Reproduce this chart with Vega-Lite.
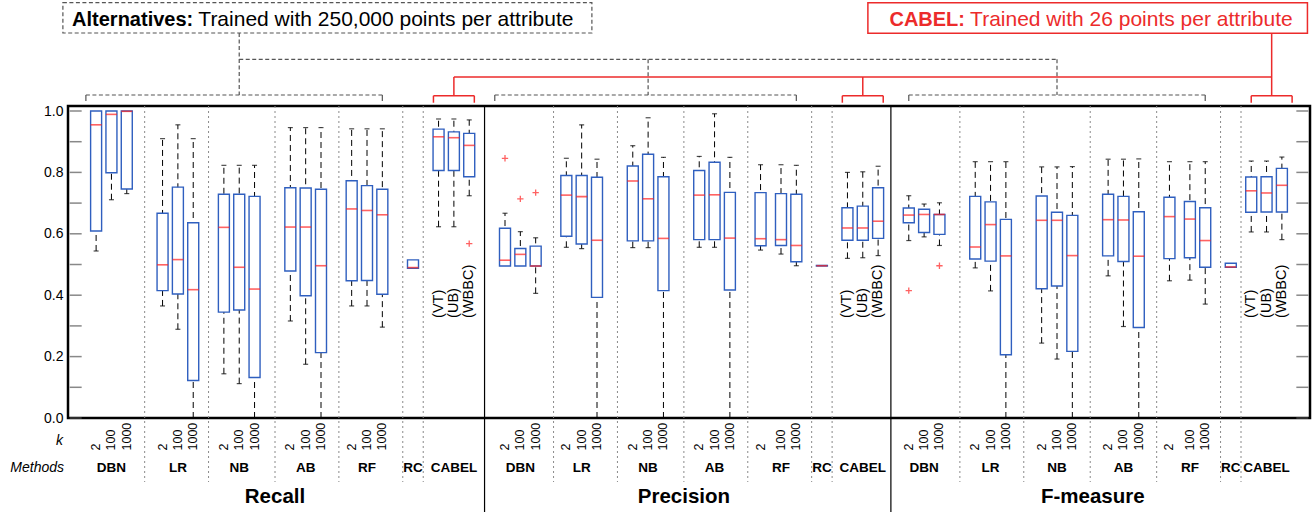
{
"$schema":"https://vega.github.io/schema/vega-lite/v6.json",
"width":1242,"height":312,
"autosize":{"type":"none"},
"padding":{"left":68,"top":106,"right":5,"bottom":94},
"background":"white",
"config":{"view":{"stroke":"#000","strokeWidth":2.5},"font":"Liberation Sans","text":{"font":"Liberation Sans"}},
"datasets":{
"boxes":[
{"slot":"R|DBN|2","lo":0.544,"q1":0.609,"med":0.955,"q3":1.0,"hi":1.0},
{"slot":"R|DBN|100","lo":0.711,"q1":0.799,"med":0.989,"q3":1.0,"hi":1.0},
{"slot":"R|DBN|1000","lo":0.731,"q1":0.746,"med":0.999,"q3":1.0,"hi":1.0},
{"slot":"R|LR|2","lo":0.365,"q1":0.415,"med":0.499,"q3":0.667,"hi":0.910},
{"slot":"R|LR|100","lo":0.289,"q1":0.404,"med":0.516,"q3":0.752,"hi":0.955},
{"slot":"R|LR|1000","lo":0,"q1":0.122,"med":0.418,"q3":0.636,"hi":0.910},
{"slot":"R|NB|2","lo":0.144,"q1":0.345,"med":0.621,"q3":0.729,"hi":0.823},
{"slot":"R|NB|100","lo":0.112,"q1":0.352,"med":0.491,"q3":0.729,"hi":0.823},
{"slot":"R|NB|1000","lo":0,"q1":0.132,"med":0.420,"q3":0.722,"hi":0.823},
{"slot":"R|AB|2","lo":0.316,"q1":0.479,"med":0.622,"q3":0.750,"hi":0.946},
{"slot":"R|AB|100","lo":0.175,"q1":0.398,"med":0.622,"q3":0.749,"hi":0.946},
{"slot":"R|AB|1000","lo":0,"q1":0.213,"med":0.496,"q3":0.745,"hi":0.946},
{"slot":"R|RF|2","lo":0.365,"q1":0.447,"med":0.681,"q3":0.773,"hi":0.942},
{"slot":"R|RF|100","lo":0.365,"q1":0.448,"med":0.676,"q3":0.757,"hi":0.942},
{"slot":"R|RF|1000","lo":0.296,"q1":0.403,"med":0.662,"q3":0.745,"hi":0.942},
{"slot":"R|RC|","lo":0.488,"q1":0.488,"med":0.490,"q3":0.515,"hi":0.515},
{"slot":"R|CABEL|VT","lo":0.623,"q1":0.806,"med":0.916,"q3":0.941,"hi":0.974,"tag":"(VT)"},
{"slot":"R|CABEL|UB","lo":0.623,"q1":0.806,"med":0.913,"q3":0.932,"hi":0.974,"tag":"(UB)"},
{"slot":"R|CABEL|WBBC","lo":0.724,"q1":0.786,"med":0.888,"q3":0.927,"hi":0.971,"tag":"(WBBC)"},
{"slot":"P|DBN|2","lo":0.495,"q1":0.495,"med":0.514,"q3":0.618,"hi":0.667},
{"slot":"P|DBN|100","lo":0.495,"q1":0.495,"med":0.533,"q3":0.552,"hi":0.607},
{"slot":"P|DBN|1000","lo":0.406,"q1":0.495,"med":0.495,"q3":0.560,"hi":0.587},
{"slot":"P|LR|2","lo":0.556,"q1":0.592,"med":0.726,"q3":0.790,"hi":0.846},
{"slot":"P|LR|100","lo":0.552,"q1":0.567,"med":0.721,"q3":0.790,"hi":0.955},
{"slot":"P|LR|1000","lo":0,"q1":0.393,"med":0.579,"q3":0.784,"hi":0.843},
{"slot":"P|NB|2","lo":0.555,"q1":0.577,"med":0.772,"q3":0.821,"hi":0.887},
{"slot":"P|NB|100","lo":0.555,"q1":0.577,"med":0.714,"q3":0.859,"hi":0.978},
{"slot":"P|NB|1000","lo":0,"q1":0.415,"med":0.585,"q3":0.786,"hi":0.849},
{"slot":"P|AB|2","lo":0.556,"q1":0.581,"med":0.726,"q3":0.806,"hi":0.852},
{"slot":"P|AB|100","lo":0.556,"q1":0.581,"med":0.727,"q3":0.833,"hi":0.991},
{"slot":"P|AB|1000","lo":0,"q1":0.417,"med":0.586,"q3":0.735,"hi":0.849},
{"slot":"P|RF|2","lo":0.547,"q1":0.561,"med":0.584,"q3":0.734,"hi":0.825},
{"slot":"P|RF|100","lo":0.534,"q1":0.562,"med":0.581,"q3":0.731,"hi":0.825},
{"slot":"P|RF|1000","lo":0.496,"q1":0.509,"med":0.562,"q3":0.729,"hi":0.823},
{"slot":"P|RC|","lo":0.495,"q1":0.495,"med":0.496,"q3":0.497,"hi":0.497},
{"slot":"P|CABEL|VT","lo":0.520,"q1":0.579,"med":0.619,"q3":0.685,"hi":0.800,"tag":"(VT)"},
{"slot":"P|CABEL|UB","lo":0.522,"q1":0.579,"med":0.619,"q3":0.690,"hi":0.802,"tag":"(UB)"},
{"slot":"P|CABEL|WBBC","lo":0.529,"q1":0.585,"med":0.641,"q3":0.750,"hi":0.820,"tag":"(WBBC)"},
{"slot":"F|DBN|2","lo":0.578,"q1":0.636,"med":0.661,"q3":0.684,"hi":0.724},
{"slot":"F|DBN|100","lo":0.590,"q1":0.604,"med":0.663,"q3":0.680,"hi":0.697},
{"slot":"F|DBN|1000","lo":0.562,"q1":0.598,"med":0.663,"q3":0.663,"hi":0.701},
{"slot":"F|LR|2","lo":0.489,"q1":0.518,"med":0.557,"q3":0.722,"hi":0.835},
{"slot":"F|LR|100","lo":0.414,"q1":0.511,"med":0.630,"q3":0.704,"hi":0.835},
{"slot":"F|LR|1000","lo":0,"q1":0.206,"med":0.528,"q3":0.647,"hi":0.835},
{"slot":"F|NB|2","lo":0.244,"q1":0.421,"med":0.644,"q3":0.723,"hi":0.818},
{"slot":"F|NB|100","lo":0.192,"q1":0.430,"med":0.644,"q3":0.670,"hi":0.818},
{"slot":"F|NB|1000","lo":0,"q1":0.217,"med":0.529,"q3":0.660,"hi":0.819},
{"slot":"F|AB|2","lo":0.463,"q1":0.528,"med":0.646,"q3":0.729,"hi":0.843},
{"slot":"F|AB|100","lo":0.298,"q1":0.510,"med":0.645,"q3":0.722,"hi":0.843},
{"slot":"F|AB|1000","lo":0,"q1":0.295,"med":0.527,"q3":0.672,"hi":0.844},
{"slot":"F|RF|2","lo":0.447,"q1":0.519,"med":0.656,"q3":0.719,"hi":0.835},
{"slot":"F|RF|100","lo":0.449,"q1":0.522,"med":0.648,"q3":0.705,"hi":0.835},
{"slot":"F|RF|1000","lo":0.371,"q1":0.491,"med":0.578,"q3":0.685,"hi":0.835},
{"slot":"F|RC|","lo":0.491,"q1":0.491,"med":0.492,"q3":0.504,"hi":0.504},
{"slot":"F|CABEL|VT","lo":0.606,"q1":0.670,"med":0.740,"q3":0.785,"hi":0.837,"tag":"(VT)"},
{"slot":"F|CABEL|UB","lo":0.606,"q1":0.671,"med":0.733,"q3":0.786,"hi":0.837,"tag":"(UB)"},
{"slot":"F|CABEL|WBBC","lo":0.581,"q1":0.671,"med":0.758,"q3":0.813,"hi":0.850,"tag":"(WBBC)"}
],
"outliers":[
{"slot":"R|CABEL|WBBC","v":0.568},{"slot":"P|DBN|2","v":0.846},{"slot":"P|DBN|100","v":0.714},
{"slot":"P|DBN|1000","v":0.734},{"slot":"F|DBN|2","v":0.415},{"slot":"F|DBN|1000","v":0.496}
],
"methods":[
{"slot":"R|DBN|100","name":"DBN"},{"slot":"R|LR|100","name":"LR"},{"slot":"R|NB|100","name":"NB"},{"slot":"R|AB|100","name":"AB"},{"slot":"R|RF|100","name":"RF"},{"slot":"R|RC|","name":"RC"},{"slot":"R|CABEL|UB","name":"CABEL"},
{"slot":"P|DBN|100","name":"DBN"},{"slot":"P|LR|100","name":"LR"},{"slot":"P|NB|100","name":"NB"},{"slot":"P|AB|100","name":"AB"},{"slot":"P|RF|100","name":"RF"},{"slot":"P|RC|","name":"RC"},{"slot":"P|CABEL|UB","name":"CABEL"},
{"slot":"F|DBN|100","name":"DBN"},{"slot":"F|LR|100","name":"LR"},{"slot":"F|NB|100","name":"NB"},{"slot":"F|AB|100","name":"AB"},{"slot":"F|RF|100","name":"RF"},{"slot":"F|RC|","name":"RC"},{"slot":"F|CABEL|UB","name":"CABEL"}
],
"titles":[{"slot":"_40","title":"Recall"},{"slot":"_120","title":"Precision"},{"slot":"_200","title":"F-measure"}],
"yt":[{"v":0},{"v":0.1},{"v":0.2},{"v":0.3},{"v":0.4},{"v":0.5},{"v":0.6},{"v":0.7},{"v":0.8},{"v":0.9},{"v":1.0}],
"sepMid":[{"slot":"_27"},{"slot":"_40"},{"slot":"_65"},{"slot":"_69"},{"slot":"_107"},{"slot":"_120"},{"slot":"_145"},{"slot":"_149"},{"slot":"_174"},{"slot":"_225"},{"slot":"_229"}],
"sepStart":[{"slot":"_15"},{"slot":"_53"},{"slot":"_95"},{"slot":"_133"},{"slot":"_187"},{"slot":"_200"},{"slot":"_213"}],
"altB":[{"a":"_3","b":"R|RF|1000"},{"a":"_83","b":"P|RF|1000"},{"a":"F|DBN|2","b":"F|RF|1000"}],
"redB":[{"a":"_71","b":"_79"},{"a":"_151","b":"_159"},{"a":"F|CABEL|VT","b":"_239"}]
},
"layer":[
{"data":{"name":"sepMid"},"mark":{"type":"rule","color":"#8a8a8a","strokeWidth":1,"strokeDash":[2,3]},
 "encoding":{"x":{"field":"slot","type":"ordinal","scale":{"domain":["_0","_1","_2","_3","_4","R|DBN|2","_6","_7","R|DBN|100","_9","_10","R|DBN|1000","_12","_13","_14","_15","_16","_17","R|LR|2","_19","_20","R|LR|100","_22","_23","R|LR|1000","_25","_26","_27","_28","_29","R|NB|2","_31","_32","R|NB|100","_34","_35","R|NB|1000","_37","_38","_39","_40","_41","_42","R|AB|2","_44","_45","R|AB|100","_47","_48","R|AB|1000","_50","_51","_52","_53","_54","R|RF|2","_56","_57","R|RF|100","_59","_60","R|RF|1000","_62","_63","_64","_65","_66","R|RC|","_68","_69","_70","_71","R|CABEL|VT","_73","_74","R|CABEL|UB","_76","_77","R|CABEL|WBBC","_79","_80","_81","_82","_83","_84","P|DBN|2","_86","_87","P|DBN|100","_89","_90","P|DBN|1000","_92","_93","_94","_95","_96","P|LR|2","_98","_99","P|LR|100","_101","_102","P|LR|1000","_104","_105","_106","_107","_108","_109","P|NB|2","_111","_112","P|NB|100","_114","_115","P|NB|1000","_117","_118","_119","_120","_121","_122","P|AB|2","_124","_125","P|AB|100","_127","_128","P|AB|1000","_130","_131","_132","_133","_134","P|RF|2","_136","_137","_138","P|RF|100","_140","_141","P|RF|1000","_143","_144","_145","_146","P|RC|","_148","_149","_150","_151","P|CABEL|VT","_153","_154","P|CABEL|UB","_156","_157","P|CABEL|WBBC","_159","_160","_161","_162","_163","F|DBN|2","_165","_166","F|DBN|100","_168","_169","F|DBN|1000","_171","_172","_173","_174","_175","_176","F|LR|2","_178","_179","F|LR|100","_181","_182","F|LR|1000","_184","_185","_186","_187","_188","_189","F|NB|2","_191","_192","F|NB|100","_194","_195","F|NB|1000","_197","_198","_199","_200","_201","_202","F|AB|2","_204","_205","F|AB|100","_207","_208","F|AB|1000","_210","_211","_212","_213","_214","F|RF|2","_216","_217","_218","F|RF|100","_220","_221","F|RF|1000","_223","_224","_225","_226","F|RC|","_228","_229","_230","F|CABEL|VT","_232","_233","F|CABEL|UB","_235","_236","F|CABEL|WBBC","_238","_239","_240","_241","_242"],"paddingInner":0,"paddingOuter":0},
   "axis":{"title":null,"ticks":false,"tickSize":0,"domain":false,"grid":false,"labelAngle":270,"labelAlign":"left","labelBaseline":"middle","labelPadding":32,"labelFontSize":12.5,"labelColor":"#000","labelFont":"Liberation Sans","labelOverlap":false,"labelBound":false,"labelFlush":false,"labelExpr":"indexof(['2','100','1000'], split(datum.value,'|')[2]) >= 0 ? split(datum.value,'|')[2] : ''"}},
  "y":{"datum":1.0163,"type":"quantitative","scale":{"domain":[0,1.0163],"nice":false,"zero":false},
   "axis":{"title":null,"values":[0,0.2,0.4,0.6,0.8,1.0],"format":".1f","ticks":false,"domain":false,"grid":false,"labelFontSize":14,"labelPadding":5,"labelColor":"#000","labelFont":"Liberation Sans"}},
  "y2":{"datum":-0.2085}}},
{"data":{"name":"sepStart"},"mark":{"type":"rule","color":"#8a8a8a","strokeWidth":1,"strokeDash":[2,3]},
 "encoding":{"x":{"field":"slot","type":"ordinal","bandPosition":0},"y":{"datum":1.0163,"type":"quantitative"},"y2":{"datum":-0.2085}}},
{"data":{"values":[{}]},"mark":{"type":"rule","color":"#000","strokeWidth":1.2},
 "encoding":{"x":{"datum":"_81","type":"ordinal","bandPosition":0.5},"y":{"datum":1.0163,"type":"quantitative"},"y2":{"datum":-0.31}}},
{"data":{"values":[{}]},"mark":{"type":"rule","color":"#000","strokeWidth":1.2},
 "encoding":{"x":{"datum":"_161","type":"ordinal","bandPosition":0},"y":{"datum":1.0163,"type":"quantitative"},"y2":{"datum":-0.31}}},
{"data":{"name":"yt"},"mark":{"type":"tick","size":12,"thickness":1.5,"color":"#555"},
 "encoding":{"x":{"datum":"_1","type":"ordinal","bandPosition":0.2},"y":{"field":"v","type":"quantitative"}}},
{"data":{"name":"yt"},"mark":{"type":"tick","size":12,"thickness":1.5,"color":"#555"},
 "encoding":{"x":{"datum":"_241","type":"ordinal","bandPosition":0.8},"y":{"field":"v","type":"quantitative"}}},
{"data":{"name":"boxes"},"mark":{"type":"rule","color":"#000","strokeWidth":1,"strokeDash":[6,4]},
 "encoding":{"x":{"field":"slot","type":"ordinal"},"y":{"field":"lo","type":"quantitative"},"y2":{"field":"hi"}}},
{"data":{"name":"boxes"},"mark":{"type":"bar","size":11,"fill":"#fff","stroke":"#2f5fbf","strokeWidth":1.4},
 "encoding":{"x":{"field":"slot","type":"ordinal"},"y":{"field":"q1","type":"quantitative"},"y2":{"field":"q3"}}},
{"data":{"name":"boxes"},"transform":[{"filter":"datum.lo < datum.q1"}],"mark":{"type":"tick","size":5,"thickness":1.2,"color":"#000"},
 "encoding":{"x":{"field":"slot","type":"ordinal"},"y":{"field":"lo","type":"quantitative"}}},
{"data":{"name":"boxes"},"transform":[{"filter":"datum.hi > datum.q3"}],"mark":{"type":"tick","size":5,"thickness":1.2,"color":"#000"},
 "encoding":{"x":{"field":"slot","type":"ordinal"},"y":{"field":"hi","type":"quantitative"}}},
{"data":{"name":"boxes"},"mark":{"type":"tick","size":11,"thickness":1.6,"color":"#ff2020"},
 "encoding":{"x":{"field":"slot","type":"ordinal"},"y":{"field":"med","type":"quantitative"}}},
{"data":{"name":"outliers"},"mark":{"type":"point","shape":"M-1,0L1,0M0,-1L0,1","size":40,"filled":false,"stroke":"#ff2020","strokeWidth":1.3},
 "encoding":{"x":{"field":"slot","type":"ordinal"},"y":{"field":"v","type":"quantitative"}}},
{"data":{"name":"boxes"},"transform":[{"filter":"isValid(datum.tag)"}],"mark":{"type":"text","angle":270,"align":"left","baseline":"middle","fontSize":14.5,"color":"#000"},
 "encoding":{"x":{"field":"slot","type":"ordinal"},"y":{"datum":0.326,"type":"quantitative"},"text":{"field":"tag"}}},
{"data":{"name":"methods"},"mark":{"type":"text","fontSize":13.5,"fontWeight":"bold","baseline":"middle","color":"#000"},
 "encoding":{"x":{"field":"slot","type":"ordinal"},"y":{"datum":-0.1629,"type":"quantitative"},"text":{"field":"name"}}},
{"data":{"name":"titles"},"mark":{"type":"text","fontSize":20.5,"fontWeight":"bold","baseline":"middle","color":"#000"},
 "encoding":{"x":{"field":"slot","type":"ordinal"},"y":{"datum":-0.2573,"type":"quantitative"},"text":{"field":"title"}}},
{"data":{"values":[{}]},"mark":{"type":"text","fontSize":14,"fontStyle":"italic","align":"right","baseline":"middle","dx":-5,"color":"#000"},
 "encoding":{"x":{"datum":"_0","type":"ordinal","bandPosition":0},"y":{"datum":-0.0749,"type":"quantitative"},"text":{"value":"k"}}},
{"data":{"values":[{}]},"mark":{"type":"text","fontSize":14,"fontStyle":"italic","align":"right","baseline":"middle","dx":-4,"color":"#000"},
 "encoding":{"x":{"datum":"_0","type":"ordinal","bandPosition":0},"y":{"datum":-0.1629,"type":"quantitative"},"text":{"value":"Methods"}}},
{"data":{"name":"altB"},"mark":{"type":"rule","color":"#555","strokeWidth":1.2,"strokeDash":[4,2.5]},
 "encoding":{"x":{"field":"a","type":"ordinal"},"x2":{"field":"b"},"y":{"datum":1.0521,"type":"quantitative"}}},
{"data":{"name":"altB"},"transform":[{"fold":["a","b"],"as":["end","pos"]}],"mark":{"type":"rule","color":"#555","strokeWidth":1.2},
 "encoding":{"x":{"field":"pos","type":"ordinal"},"y":{"datum":1.0521,"type":"quantitative"},"y2":{"datum":1.0326}}},
{"data":{"values":[{}]},"mark":{"type":"rule","color":"#555","strokeWidth":1.2,"strokeDash":[4,2.5]},
 "encoding":{"x":{"datum":"R|NB|100","type":"ordinal"},"x2":{"datum":"F|NB|100"},"y":{"datum":1.1684,"type":"quantitative"}}},
{"data":{"values":[{}]},"mark":{"type":"rule","color":"#555","strokeWidth":1.2,"strokeDash":[4,2.5]},
 "encoding":{"x":{"datum":"R|NB|100","type":"ordinal"},"y":{"datum":1.2541,"type":"quantitative"},"y2":{"datum":1.0521}}},
{"data":{"values":[{"slot":"P|NB|100"},{"slot":"F|NB|100"}]},"mark":{"type":"rule","color":"#555","strokeWidth":1.2,"strokeDash":[4,2.5]},
 "encoding":{"x":{"field":"slot","type":"ordinal"},"y":{"datum":1.1684,"type":"quantitative"},"y2":{"datum":1.0521}}},
{"data":{"name":"redB"},"mark":{"type":"rule","color":"#ec2b2b","strokeWidth":1.5},
 "encoding":{"x":{"field":"a","type":"ordinal"},"x2":{"field":"b"},"y":{"datum":1.0498,"type":"quantitative"}}},
{"data":{"name":"redB"},"transform":[{"fold":["a","b"],"as":["end","pos"]}],"mark":{"type":"rule","color":"#ec2b2b","strokeWidth":1.5},
 "encoding":{"x":{"field":"pos","type":"ordinal"},"y":{"datum":1.0498,"type":"quantitative"},"y2":{"datum":1.027}}},
{"data":{"values":[{}]},"mark":{"type":"rule","color":"#ec2b2b","strokeWidth":1.5},
 "encoding":{"x":{"datum":"R|CABEL|UB","type":"ordinal"},"x2":{"datum":"_235"},"y":{"datum":1.1107,"type":"quantitative"}}},
{"data":{"values":[{"slot":"R|CABEL|UB"},{"slot":"P|CABEL|UB"}]},"mark":{"type":"rule","color":"#ec2b2b","strokeWidth":1.5},
 "encoding":{"x":{"field":"slot","type":"ordinal"},"y":{"datum":1.1107,"type":"quantitative"},"y2":{"datum":1.0498}}},
{"data":{"values":[{}]},"mark":{"type":"rule","color":"#ec2b2b","strokeWidth":1.5},
 "encoding":{"x":{"datum":"_235","type":"ordinal"},"y":{"datum":1.2531,"type":"quantitative"},"y2":{"datum":1.0498}}},
{"data":{"values":[{}]},"mark":{"type":"rect","fill":"#fff","stroke":"#555","strokeWidth":1.2,"strokeDash":[4,2.5]},
 "encoding":{"x":{"datum":"_0","type":"ordinal","bandPosition":-1},"x2":{"datum":"_102","bandPosition":0.5},"y":{"datum":1.3528,"type":"quantitative"},"y2":{"datum":1.2541}}},
{"data":{"values":[{}]},"mark":{"type":"rect","fill":"#fff","stroke":"#ec2b2b","strokeWidth":1.5},
 "encoding":{"x":{"datum":"_156","type":"ordinal","bandPosition":0.5},"x2":{"datum":"_242","bandPosition":0.5},"y":{"datum":1.3528,"type":"quantitative"},"y2":{"datum":1.2531}}},
{"data":{"values":[{}]},"mark":{"type":"text","fontSize":20,"fontWeight":"bold","align":"right","baseline":"alphabetic","color":"#000"},
 "encoding":{"x":{"datum":"R|LR|1000","type":"ordinal"},"y":{"datum":1.2769,"type":"quantitative"},"text":{"value":"Alternatives:"}}},
{"data":{"values":[{}]},"mark":{"type":"text","fontSize":21,"align":"left","baseline":"alphabetic","color":"#000"},
 "encoding":{"x":{"datum":"_25","type":"ordinal"},"y":{"datum":1.2769,"type":"quantitative"},"text":{"value":"Trained with 250,000 points per attribute"}}},
{"data":{"values":[{}]},"mark":{"type":"text","fontSize":20,"fontWeight":"bold","align":"right","baseline":"alphabetic","color":"#ec2b2b"},
 "encoding":{"x":{"datum":"_175","type":"ordinal"},"y":{"datum":1.2769,"type":"quantitative"},"text":{"value":"CABEL:"}}},
{"data":{"values":[{}]},"mark":{"type":"text","fontSize":21,"align":"left","baseline":"alphabetic","color":"#ec2b2b"},
 "encoding":{"x":{"datum":"_176","type":"ordinal"},"y":{"datum":1.2769,"type":"quantitative"},"text":{"value":"Trained with 26 points per attribute"}}}
]
}
